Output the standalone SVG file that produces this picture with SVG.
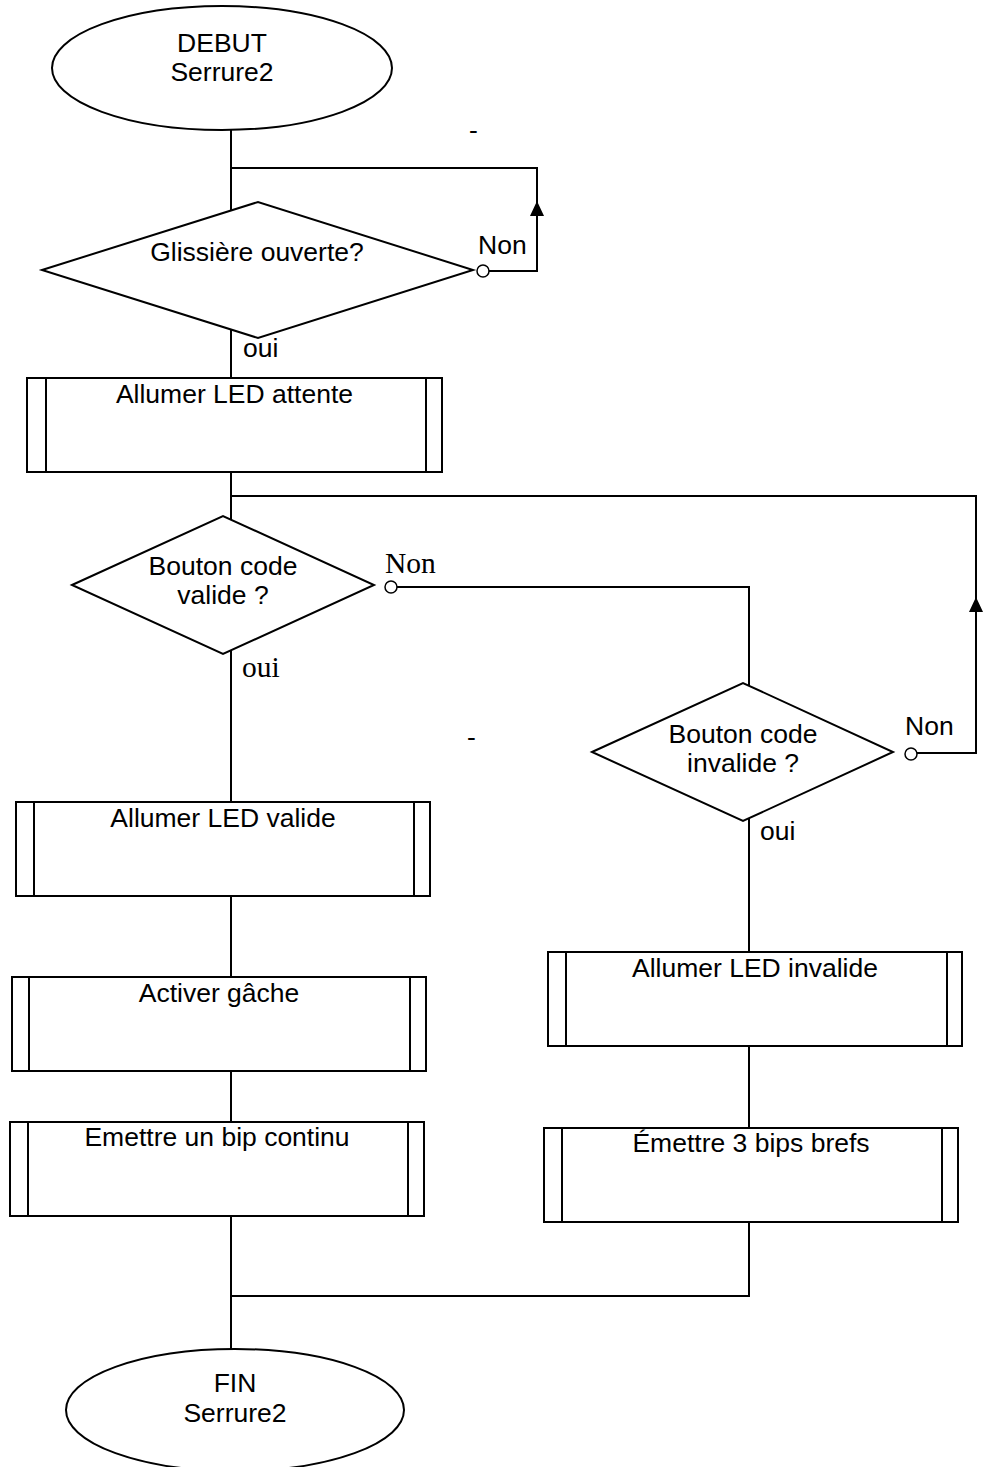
<svg xmlns="http://www.w3.org/2000/svg" width="989" height="1467" viewBox="0 0 989 1467">
<style>
.ln{stroke:#000;stroke-width:2;fill:none}
.sh{stroke:#000;stroke-width:2;fill:#fff}
.t{font-family:"Liberation Sans",Arial,sans-serif;font-size:26.5px;fill:#000}
.c{text-anchor:middle}
.s{font-family:"Liberation Serif","Times New Roman",serif;font-size:29.5px;fill:#000}
.ah{fill:#000;stroke:none}
.dot{stroke:#000;stroke-width:1.5;fill:#fff}
</style>
<rect width="989" height="1467" fill="#fff"/>
<g id="connectors">
<path class="ln" d="M231 130 V230"/>
<path class="ln" d="M231 168 H537 V271 H488"/>
<polygon class="ah" points="537,201 530,216 544,216"/>
<path class="ln" d="M231 330 V378"/>
<path class="ln" d="M231 472 V540"/>
<path class="ln" d="M231 496 H976 V753 H916"/>
<polygon class="ah" points="976,597 969,612 983,612"/>
<path class="ln" d="M396 587 H749 V700"/>
<path class="ln" d="M231 640 V802"/>
<path class="ln" d="M231 896 V977"/>
<path class="ln" d="M231 1071 V1122"/>
<path class="ln" d="M231 1215 V1360"/>
<path class="ln" d="M749 800 V952"/>
<path class="ln" d="M749 1046 V1128"/>
<path class="ln" d="M749 1222 V1296 H230"/>
</g>
<g id="debut">
<ellipse class="sh" cx="222" cy="68" rx="170" ry="62"/>
<text class="t c" x="222" y="52">DEBUT</text>
<text class="t c" x="222" y="81">Serrure2</text>
</g>
<g id="glissiere">
<polygon class="sh" points="42,270 258,202 473,270 258,338"/>
<text class="t c" x="257" y="261">Glissière ouverte?</text>
<circle class="dot" cx="483" cy="271" r="6"/>
<text class="t" x="478" y="254">Non</text>
<text class="t" x="243" y="357">oui</text>
</g>
<text class="t" x="469" y="139">-</text>
<g id="led-attente">
<rect class="sh" x="27" y="378" width="415" height="94"/>
<path class="ln" d="M46 378 V472 M426 378 V472"/>
<text class="t c" x="234.5" y="403">Allumer LED attente</text>
</g>
<g id="code-valide">
<polygon class="sh" points="72,585 223,516 374,585 223,654"/>
<text class="t c" x="223" y="575">Bouton code</text>
<text class="t c" x="223" y="604">valide ?</text>
<circle class="dot" cx="391" cy="587" r="6"/>
<text class="s" x="385" y="573">Non</text>
<text class="s" x="242" y="677">oui</text>
</g>
<text class="t" x="467" y="746">-</text>
<g id="code-invalide">
<polygon class="sh" points="592,752 743,683 893,752 743,821"/>
<text class="t c" x="743" y="743">Bouton code</text>
<text class="t c" x="743" y="772">invalide ?</text>
<circle class="dot" cx="911" cy="754" r="6"/>
<text class="t" x="905" y="735">Non</text>
<text class="t" x="760" y="840">oui</text>
</g>
<g id="led-valide">
<rect class="sh" x="16" y="802" width="414" height="94"/>
<path class="ln" d="M34 802 V896 M414 802 V896"/>
<text class="t c" x="223" y="827">Allumer LED valide</text>
</g>
<g id="gache">
<rect class="sh" x="12" y="977" width="414" height="94"/>
<path class="ln" d="M29 977 V1071 M410 977 V1071"/>
<text class="t c" x="219" y="1002">Activer gâche</text>
</g>
<g id="bip-continu">
<rect class="sh" x="10" y="1122" width="414" height="94"/>
<path class="ln" d="M28 1122 V1216 M408 1122 V1216"/>
<text class="t c" x="217" y="1146">Emettre un bip continu</text>
</g>
<g id="led-invalide">
<rect class="sh" x="548" y="952" width="414" height="94"/>
<path class="ln" d="M566 952 V1046 M947 952 V1046"/>
<text class="t c" x="755" y="977">Allumer LED invalide</text>
</g>
<g id="bips-brefs">
<rect class="sh" x="544" y="1128" width="414" height="94"/>
<path class="ln" d="M562 1128 V1222 M942 1128 V1222"/>
<text class="t c" x="751" y="1152">Émettre 3 bips brefs</text>
</g>
<g id="fin">
<ellipse class="sh" cx="235" cy="1410" rx="169" ry="61"/>
<text class="t c" x="235" y="1392">FIN</text>
<text class="t c" x="235" y="1422">Serrure2</text>
</g>
</svg>
